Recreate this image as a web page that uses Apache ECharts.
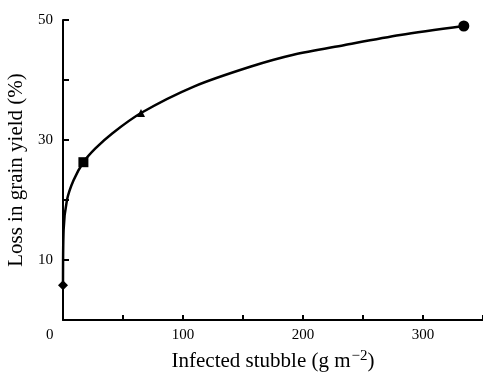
<!DOCTYPE html>
<html>
<head>
<meta charset="utf-8">
<script src="https://cdn.jsdelivr.net/npm/echarts@6/dist/echarts.min.js"></script>
<style>
  html, body { margin: 0; padding: 0; background: #fff; }
  #chart { width: 483px; height: 373px; }
</style>
</head>
<body>
<div id="chart"></div>
<script>
// fitted curve
const curveX = [0, 0.5, 3.3, 8.8, 17, 27, 41, 65, 109, 156, 192, 234, 281, 334];
const curveY = [5.8, 15, 20, 23.3, 26.3, 28.6, 31.1, 34.5, 38.9, 42.2, 44.2, 45.8, 47.5, 49];

// observed points (one symbol each)
const pointX = [0, 17, 65, 334];
const pointY = [5.8, 26.3, 34.5, 49];
const pointSymbols = ["diamond", "rect", "triangle", "circle"];
const pointSizes = [10, 10, 8, 11];

const xLabels = [100, 200, 300];
const yLabels = [10, 30, 50];

const font = "Liberation Serif";
const chart = echarts.init(document.getElementById("chart"));

chart.setOption({
  animation: false,
  grid: { left: 63, right: 0, top: 20, bottom: 53, outerBoundsMode: "none" },
  xAxis: {
    type: "value",
    min: 0,
    max: 350,
    interval: 50,
    name: "Infected stubble (g m{sup|\u22122})",
    nameLocation: "middle",
    nameGap: 29,
    nameTextStyle: {
      fontFamily: font, fontSize: 21, color: "#000",
      rich: { sup: { fontFamily: font, fontSize: 15, color: "#000", verticalAlign: "top", padding: [0, 0, 9, 1] } }
    },
    axisLine: { lineStyle: { color: "#000", width: 2 } },
    axisTick: { inside: true, length: 5, lineStyle: { color: "#000", width: 2 } },
    axisLabel: {
      margin: 8, fontFamily: font, fontSize: 15, color: "#000",
      formatter: v => xLabels.includes(v) ? String(v) : ""
    },
    splitLine: { show: false }
  },
  yAxis: {
    type: "value",
    min: 0,
    max: 50,
    interval: 10,
    name: "Loss in grain yield (%)",
    nameLocation: "middle",
    nameGap: 34,
    nameRotate: 90,
    nameTextStyle: { fontFamily: font, fontSize: 21, color: "#000" },
    axisLine: { lineStyle: { color: "#000", width: 2 } },
    axisTick: { inside: true, length: 6, lineStyle: { color: "#000", width: 2 } },
    axisLabel: {
      margin: 10, fontFamily: font, fontSize: 15, color: "#000",
      formatter: v => yLabels.includes(v) ? String(v) : ""
    },
    splitLine: { show: false }
  },
  graphic: [{
    type: "text", left: 46, top: 328,
    style: { text: "0", font: "15px " + font, fill: "#000" }
  }],
  series: [
    {
      type: "line",
      data: curveX.map((x, i) => [x, curveY[i]]),
      smooth: 0.3,
      showSymbol: false,
      lineStyle: { color: "#000", width: 2.5 },
      z: 2
    },
    {
      type: "scatter",
      data: pointX.map((x, i) => ({
        value: [x, pointY[i]],
        symbol: pointSymbols[i],
        symbolSize: pointSizes[i]
      })),
      itemStyle: { color: "#000", opacity: 1 },
      z: 3
    }
  ]
});
</script>
</body>
</html>
